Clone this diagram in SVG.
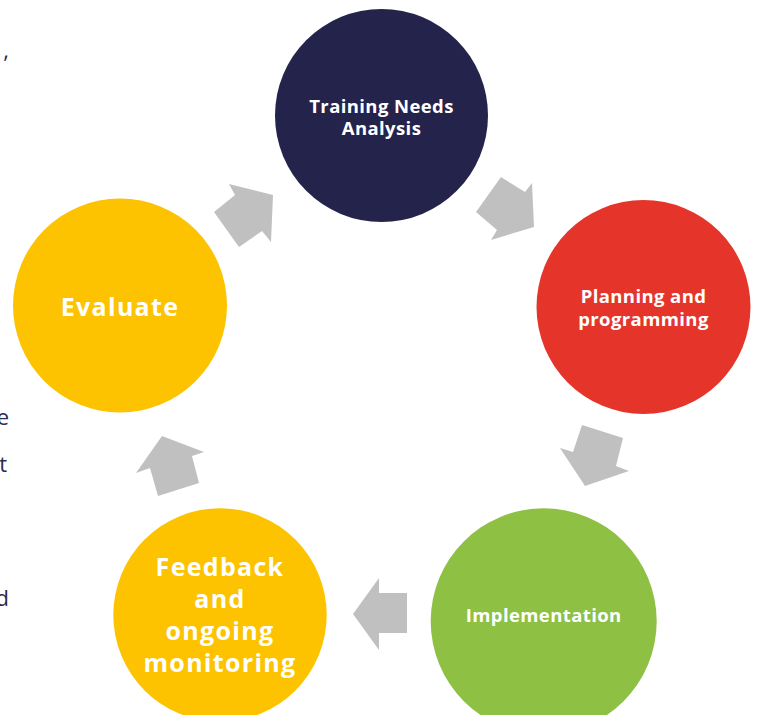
<svg xmlns="http://www.w3.org/2000/svg" width="757" height="715" viewBox="0 0 757 715">
  <style>
    .stage { stroke: none; }
    .label { fill: #ffffff; font-family: "Open Sans", "Liberation Sans", Arial, sans-serif; font-weight: 700; text-anchor: middle; }
    .small { font-size: 18.5px; letter-spacing: 0.4px; }
    .large { font-size: 25px; letter-spacing: 1.3px; }
    .arrow { fill: #c0c0c0; stroke: none; }
    .edge-text { fill: #2b2b4d; font-family: "Open Sans", "Liberation Sans", Arial, sans-serif; font-size: 22px; text-anchor: end; }
  </style>
  <rect width="757" height="715" fill="#ffffff"/>

  <!-- body copy running in from the left margin -->
  <g id="margin-text">
    <text class="edge-text" x="9" y="58">,</text>
    <text class="edge-text" x="9" y="425">e</text>
    <text class="edge-text" x="7" y="472">t</text>
    <text class="edge-text" x="9" y="606">d</text>
  </g>

  <!-- block arrows between the stages -->
  <g id="connectors">
    <polygon class="arrow" points="273,195 271,242 262,231 239,247 214,212 235,195 229,184"/>
    <polygon class="arrow" points="501,177 525,192 532,183 534,227 491,240 497,230 476,212"/>
    <polygon class="arrow" points="582,425 623,438 616,466 629,471 585,486 560,448 573,452"/>
    <polygon class="arrow" points="353,614 379,578 379,593 407,593 407,633 379,633 379,650"/>
    <polygon class="arrow" points="162,436 204,452 192,456 199,483 158,496 150,468 136,473"/>
  </g>

  <g id="training-needs-analysis">
    <circle class="stage" cx="381.5" cy="115.5" r="106.5" fill="#24234b"/>
    <text class="label small" x="381.5" y="113">Training Needs</text>
    <text class="label small" x="381.5" y="135">Analysis</text>
  </g>

  <g id="planning-and-programming">
    <circle class="stage" cx="643.5" cy="307" r="107" fill="#e5352b"/>
    <text class="label small" x="643.5" y="303">Planning and</text>
    <text class="label small" x="643.5" y="326">programming</text>
  </g>

  <g id="implementation">
    <circle class="stage" cx="543.7" cy="621.3" r="113" fill="#8dc043"/>
    <text class="label small" x="543.7" y="622">Implementation</text>
  </g>

  <g id="feedback-and-monitoring">
    <circle class="stage" cx="220" cy="615" r="106.7" fill="#fdc300"/>
    <text class="label large" x="220" y="576">Feedback</text>
    <text class="label large" x="220" y="608">and</text>
    <text class="label large" x="220" y="640">ongoing</text>
    <text class="label large" x="220" y="672">monitoring</text>
  </g>

  <g id="evaluate">
    <circle class="stage" cx="120" cy="305.5" r="107" fill="#fdc300"/>
    <text class="label large" x="120" y="316">Evaluate</text>
  </g>
</svg>
